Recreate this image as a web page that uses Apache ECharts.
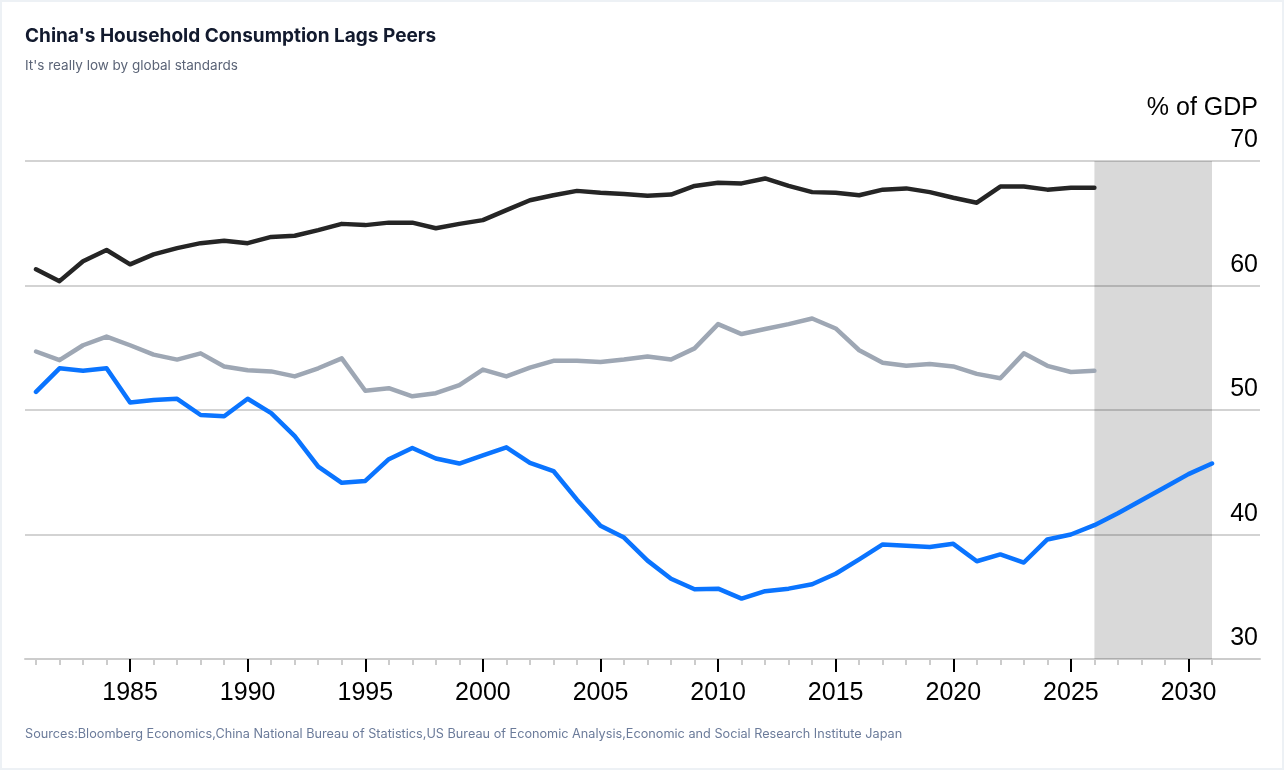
<!DOCTYPE html>
<html>
<head>
<meta charset="utf-8">
<script src="https://cdn.jsdelivr.net/npm/echarts@6/dist/echarts.min.js"></script>
<style>
html,body{margin:0;padding:0;background:#fff;}
#chart{width:1284px;height:770px;}
</style>
</head>
<body>
<div id="chart"></div>
<script>
// ---- data ----
const years = [1981,1982,1983,1984,1985,1986,1987,1988,1989,1990,1991,1992,1993,1994,1995,1996,1997,1998,1999,2000,2001,2002,2003,2004,2005,2006,2007,2008,2009,2010,2011,2012,2013,2014,2015,2016,2017,2018,2019,2020,2021,2022,2023,2024,2025,2026,2027,2028,2029,2030,2031];
const usValues = [61.3,60.35,61.95,62.85,61.7,62.5,63.0,63.4,63.6,63.4,63.9,64.0,64.45,64.95,64.85,65.05,65.05,64.6,64.95,65.25,66.05,66.85,67.25,67.6,67.45,67.35,67.2,67.3,68.0,68.25,68.2,68.6,68.0,67.5,67.45,67.25,67.7,67.8,67.5,67.05,66.65,67.95,67.95,67.7,67.85,67.85];
const japanValues = [54.7,54.0,55.2,55.9,55.2,54.45,54.05,54.55,53.5,53.2,53.1,52.7,53.35,54.15,51.55,51.75,51.1,51.35,52.0,53.25,52.7,53.4,53.95,53.95,53.85,54.05,54.3,54.05,54.95,56.9,56.1,56.5,56.9,57.35,56.55,54.8,53.8,53.55,53.7,53.5,52.9,52.55,54.55,53.55,53.05,53.15];
const chinaValues = [51.45,53.35,53.15,53.35,50.6,50.8,50.9,49.6,49.5,50.9,49.75,47.9,45.45,44.15,44.3,46.05,46.95,46.1,45.7,46.35,47.0,45.75,45.1,42.8,40.7,39.75,37.9,36.45,35.6,35.65,34.85,35.45,35.65,36.0,36.85,38.0,39.2,39.1,39.0,39.25,37.85,38.4,37.75,39.6,40.0,40.75,41.7,42.75,43.8,44.85,45.7];
const xTickLabels = [1985,1990,1995,2000,2005,2010,2015,2020,2025,2030];
const yTickValues = [30,40,50,60,70];
const forecastStart = 2026;
const forecastEnd = 2031;

const FONT = 'Liberation Sans, Arial, Helvetica, sans-serif';
const UIFONT = 'Inter, "Noto Sans", sans-serif';

function pairs(vals){ return vals.map((v,i)=>[years[i], v]); }

const yMin = yTickValues[0], yMax = yTickValues[yTickValues.length-1];
const xMin = years[0], xMax = years[years.length-1];
const yearCats = years.map(String);

// layout
const W = 1284, PL = 36, PR = 72;
const pxPerYear = (W - PL - PR) / (xMax - xMin);
const majorFirst = xTickLabels[0], majorLast = xTickLabels[xTickLabels.length-1];
const majorStep = xTickLabels[1] - xTickLabels[0];
const majorLeft = PL + (majorFirst - xMin) * pxPerYear;
const majorRight = PR + (xMax - majorLast) * pxPerYear;

const chart = echarts.init(document.getElementById('chart'), null, {renderer:'canvas'});
chart.setOption({
  backgroundColor: '#ffffff',
  animation: false,
  title: {
    text: "China's Household Consumption Lags Peers",
    subtext: "It's really low by global standards",
    left: 25, top: 27, padding: 0, itemGap: 13,
    textStyle: {fontFamily: UIFONT, fontSize: 19, fontWeight: 'bold', color: '#121a2e'},
    subtextStyle: {fontFamily: UIFONT, fontSize: 13.5, color: '#5b6477'}
  },
  graphic: [
    {type:'rect', shape:{x:1,y:1,width:1282,height:768}, style:{fill:'none', stroke:'#edf1f5', lineWidth:2}, z: 0},
    {type:'text', right: 26, top: 96, style:{text:'% of GDP', fontFamily: FONT, fontSize: 25, fill:'#000'}},
    {type:'text', left: 25, top: 728, style:{text:'Sources:Bloomberg Economics,China National Bureau of Statistics,US Bureau of Economic Analysis,Economic and Social Research Institute Japan', fontFamily: UIFONT, fontSize: 12.7, fill:'#6b7b9a'}}
  ],
  grid: [
    {left: PL, right: PR, top: 161, bottom: 111},
    {left: 25, right: 24, top: 161, bottom: 111},
    {left: majorLeft, right: majorRight, top: 161, bottom: 111}
  ],
  xAxis: [
    {gridIndex:0, type:'value', min:xMin, max:xMax, show:false},
    // minor yearly ticks
    {gridIndex:0, type:'category', position:'bottom', data: yearCats, boundaryGap:false,
     axisLine:{show:false}, splitLine:{show:false},
     axisTick:{show:true, interval: 0, length: 6, lineStyle:{color:'#cccccc', width:2}},
     axisLabel:{show:false}, z: 4},
    // axis line across full width
    {gridIndex:1, type:'value', position:'bottom', min:0, max:1,
     axisLine:{show:true, lineStyle:{color:'#cccccc', width:2}},
     axisTick:{show:false}, axisLabel:{show:false}, splitLine:{show:false}},
    // major ticks + labels every 5 years
    {gridIndex:2, type:'value', position:'bottom', min:majorFirst, max:majorLast, interval:majorStep,
     axisLine:{show:false}, splitLine:{show:false},
     axisTick:{show:true, length: 13, lineStyle:{color:'#000000', width:2}},
     axisLabel:{show:true, fontFamily: FONT, fontSize: 25, color:'#000', margin: 22, formatter: v => String(v)}, z: 6}
  ],
  yAxis: [
    {gridIndex:0, type:'value', min:yMin, max:yMax, show:false},
    {gridIndex:1, type:'value', position:'right', min:yMin, max:yMax, interval:10,
     axisLine:{show:false}, axisTick:{show:false},
     splitLine:{show:true, lineStyle:{color:'#d3d3d3', width:2}},
     axisLabel:{show:true, inside:true, margin: 2, verticalAlign:'bottom', padding:[0,0,8,0], fontFamily: FONT, fontSize: 25, color:'#000'}},
    {gridIndex:2, type:'value', min:yMin, max:yMax, show:false}
  ],
  series: [
    {type:'line', xAxisIndex:0, yAxisIndex:0, data:[], silent:true, z:1,
     markArea:{silent:true, itemStyle:{color:'rgba(0,0,0,0.15)'},
       data:[[{coord:[forecastStart, yMin]},{coord:[forecastEnd, yMax]}]]}},
    {name:'US', type:'line', xAxisIndex:0, yAxisIndex:0, data:pairs(usValues), symbol:'none', z:3,
     lineStyle:{color:'#252525', width:4.5, cap:'round', join:'round'}},
    {name:'Japan', type:'line', xAxisIndex:0, yAxisIndex:0, data:pairs(japanValues), symbol:'none', z:3,
     lineStyle:{color:'#9ea7b4', width:4.5, cap:'round', join:'round'}},
    {name:'China', type:'line', xAxisIndex:0, yAxisIndex:0, data:pairs(chinaValues), symbol:'none', z:4,
     lineStyle:{color:'#0a74ff', width:4.5, cap:'round', join:'round'}}
  ]
});
</script>
</body>
</html>
